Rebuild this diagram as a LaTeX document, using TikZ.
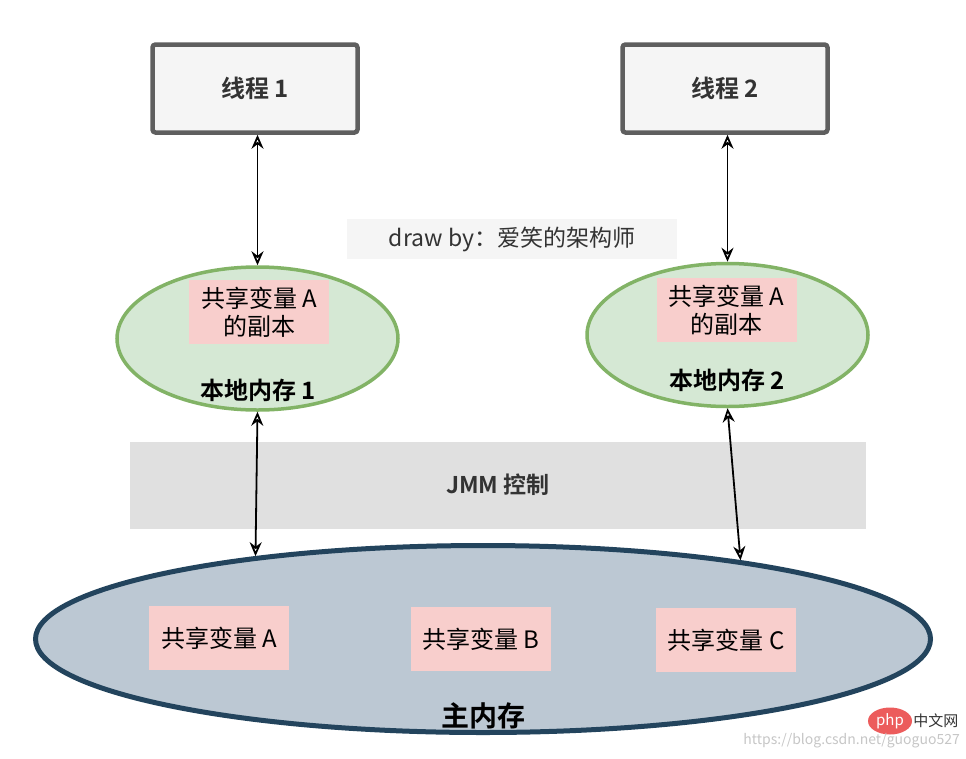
\documentclass[tikz,border=0pt]{standalone}
\usepackage{fontspec}
\setmainfont{Noto Sans CJK SC}[BoldFont={Noto Sans CJK SC Bold}]
\usetikzlibrary{shapes, arrows.meta, positioning, calc}
\definecolor{threadgray}{RGB}{95, 95, 95}
\definecolor{threadfill}{RGB}{245, 245, 245}
\definecolor{localgreen}{RGB}{130, 179, 102}
\definecolor{localfill}{RGB}{213, 232, 212}
\definecolor{copypink}{RGB}{248, 206, 204}
\definecolor{jmmgray}{RGB}{224, 224, 224}
\definecolor{mainblue}{RGB}{35, 68, 93}
\definecolor{mainfill}{RGB}{188, 200, 211}
\definecolor{textdark}{RGB}{51, 51, 51}
\definecolor{logored}{RGB}{236, 92, 92}

\tikzset{
  threadbox/.style={draw=threadgray, fill=threadfill, line width=4.5pt, rounded corners=3pt,
    minimum width=205pt, minimum height=88pt, text=textdark, font=\fontsize{24}{28}\selectfont\bfseries},
  localmem/.style={ellipse, draw=localgreen, fill=localfill, line width=3.5pt,
    minimum width=281pt, minimum height=143pt},
  copybox/.style={fill=copypink, minimum width=140pt, minimum height=64pt, align=center,
    inner sep=2pt, font=\fontsize{24}{28}\selectfont},
  memlabel/.style={font=\fontsize{24}{28}\selectfont\bfseries},
  syncarrow/.style={{Stealth[open, length=14pt, width=12pt]}-{Stealth[open, length=14pt, width=12pt]},
    line width=1.8pt},
}

\begin{document}
\begin{tikzpicture}[x=1pt, y=-1pt]
  \useasboundingbox (0,0) rectangle (966,758);

  % thread boxes
  \node[threadbox] (t1) at (255, 88.5) {线程 1};
  \node[threadbox] (t2) at (725, 88.5) {线程 2};

  % signature
  \node[fill=threadfill, minimum width=330pt, minimum height=40pt, text=textdark,
    font=\fontsize{23}{26}\selectfont] (sign) at (512, 239) {draw by：爱笑的架构师};

  % JMM band
  \node[fill=jmmgray, minimum width=736pt, minimum height=87pt, text=textdark,
    font=\fontsize{23}{27}\selectfont\bfseries] (jmm) at (498, 485) {JMM 控制};

  % local memories
  \node[localmem] (l1) at (257.5, 338.5) {};
  \node[copybox] (c1) at (259, 312) {共享变量 A\\的副本};
  \node[memlabel] (n1) at (258, 390) {本地内存 1};
  \node[localmem] (l2) at (727.5, 335) {};
  \node[copybox] (c2) at (726.5, 310) {共享变量 A\\的副本};
  \node[memlabel] (n2) at (727, 380) {本地内存 2};

  % main memory
  \node[ellipse, draw=mainblue, fill=mainfill, line width=5pt, minimum width=895pt,
    minimum height=187pt] (mm) at (483, 639) {};
  \node[copybox] (va) at (219, 638) {共享变量 A};
  \node[copybox] (vb) at (481, 639) {共享变量 B};
  \node[copybox] (vc) at (726, 640) {共享变量 C};
  \node[font=\fontsize{28}{32}\selectfont\bfseries] (mmlabel) at (483, 716) {主内存};

  % read / write paths
  \draw[syncarrow] (l1.north |- t1.south) -- (l1.north);
  \draw[syncarrow] (l2.north |- t2.south) -- (l2.north);
  \draw[syncarrow] (l1.south) -- (mm.160);
  \draw[syncarrow] (l2.south) -- (mm.17.5);

  % watermark
  \node[ellipse, fill=logored, minimum width=44pt, minimum height=27pt, inner sep=0pt,
    text=white, font=\fontsize{15}{16}\selectfont\itshape] (logo) at (890, 721) {php};
  \node[right=1pt of logo, text=textdark, inner sep=0pt, font=\fontsize{15}{16}\selectfont] (site) {中文网};
  \node[anchor=east, text=gray!45, inner sep=0pt, font=\fontsize{14}{15}\selectfont] (url) at (960, 741)
    {https://blog.csdn.net/guoguo527};
\end{tikzpicture}
\end{document}
